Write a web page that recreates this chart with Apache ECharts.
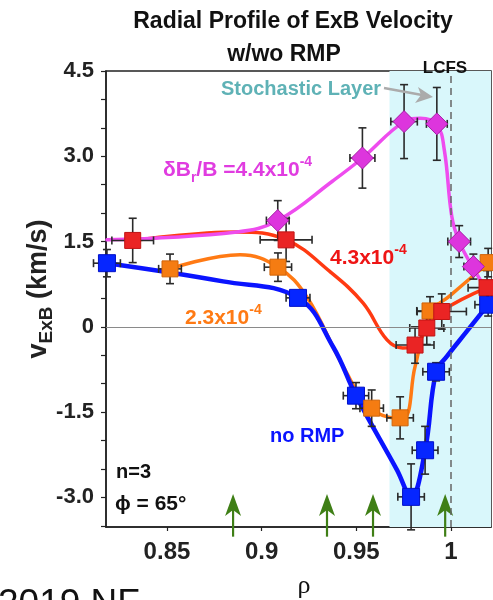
<!DOCTYPE html>
<html>
<head>
<meta charset="utf-8">
<script src="https://cdn.jsdelivr.net/npm/echarts@6/dist/echarts.min.js"></script>
<style>
  html, body { margin: 0; padding: 0; background: #fff; }
  #chart { width: 493px; height: 600px; }
</style>
</head>
<body>
<div id="chart"></div>
<script>
// ---- axis ticks ----
const rhoTicks = [0.85, 0.9, 0.95, 1];
const vLabelTicks = [-3, -1.5, 0, 1.5, 3, 4.5];
const vMinorTicks = [-3.5, -3, -2.5, -2, -1.5, -1, -0.5, 0, 0.5, 1, 1.5, 2, 2.5, 3, 3.5, 4, 4.5];

// ---- no RMP ----
const noRmpRho    = [0.8183, 0.9192, 0.9498, 0.9789, 0.9863, 0.9921, 1.0196];
const noRmpV      = [1.12, 0.51, -1.21, -2.99, -2.17, -0.79, 0.39];
const noRmpRhoErr = [0.0071, 0.0063, 0.0067, 0.007, 0.0068, 0.007, 0.007];
const noRmpVErr   = [0.24, 0.10, 0.23, 0.58, 0.42, 0.16, 0.20];
const noRmpFitRho = [0.8183, 0.8796, 0.9192, 0.9377, 0.9498, 0.9715, 0.9789, 0.9863, 0.9921, 0.9978, 1.0083, 1.0196];
const noRmpFitV   = [1.12, 0.80, 0.51, -0.35, -1.21, -2.52, -2.99, -2.17, -0.79, -0.52, -0.08, 0.39];

// ---- dBr/B = 2.3e-4 ----
const lowRho    = [0.8516, 0.9086, 0.9581, 0.9731, 0.9889, 1.0196];
const lowV      = [1.02, 1.05, -1.43, -1.60, 0.28, 1.13];
const lowRhoErr = [0.006, 0.0072, 0.0062, 0.007, 0.007, 0.007];
const lowVErr   = [0.26, 0.25, 0.32, 0.37, 0.25, 0.25];
const lowFitRho = [0.8516, 0.8886, 0.9086, 0.9238, 0.9431, 0.9578, 0.9740, 0.9810, 0.9889, 0.9995, 1.0196];
const lowFitV   = [1.02, 1.27, 1.05, 0.53, -0.70, -1.44, -1.62, -0.70, 0.24, 0.55, 1.12];

// ---- dBr/B = 4.3e-4 ----
const midRho    = [0.8319, 0.9129, 0.9810, 0.9872, 0.9951, 1.0190];
const midV      = [1.52, 1.53, -0.32, -0.02, 0.27, 0.69];
const midRhoErr = [0.011, 0.0137, 0.010, 0.009, 0.013, 0.010];
const midVErr   = [0.39, 0.38, 0.32, 0.29, 0.31, 0.30];
const midFitRho = [0.8319, 0.8870, 0.9129, 0.9361, 0.9535, 0.9662, 0.9745, 0.9810, 0.9873, 0.9952, 1.0190];
const midFitV   = [1.52, 1.67, 1.53, 0.97, 0.42, -0.23, -0.37, -0.33, -0.02, 0.28, 0.69];

// ---- dBr/B = 4.4e-4 ----
const highRho    = [0.9085, 0.9532, 0.9752, 0.9925, 1.0043, 1.0118];
const highV      = [1.87, 2.97, 3.61, 3.57, 1.50, 1.06];
const highRhoErr = [0.006, 0.0066, 0.007, 0.0055, 0.006, 0.005];
const highVErr   = [0.35, 0.53, 0.65, 0.64, 0.28, 0.22];
const highFitRho = [0.8183, 0.8870, 0.9085, 0.9377, 0.9532, 0.9752, 0.9837, 0.9925, 0.9965, 1.0004, 1.0043, 1.0118, 1.0189];
const highFitV   = [1.53, 1.67, 1.87, 2.57, 2.97, 3.61, 3.67, 3.56, 3.10, 1.94, 1.50, 1.03, 0.65];

// probe locations (green arrows) and stochastic layer / LCFS
const arrowRho = [0.8849, 0.9345, 0.9588, 0.9969];
const arrowTailV = -3.69;
const arrowTipV = -2.94;
const stochasticStart = 0.9675;
const lcfsRho = 1.0;

const RHO_MIN = 0.8178, RHO_MAX = 1.0211;
const V_MIN = -3.52, V_MAX = 4.5;

const FONT = '"Liberation Sans", Arial, Helvetica, sans-serif';

const zip = (a, b) => a.map((x, i) => [x, b[i]]);

function fitSeries(rho, v, color, width, z) {
  return {
    type: 'line', data: zip(rho, v), showSymbol: false, symbol: 'none',
    smooth: 0.4, z: z, silent: true,
    lineStyle: { color: color, width: width, cap: 'round', join: 'round' }
  };
}

function errorSeries(rho, v, rhoErr, vErr, z) {
  return {
    type: 'custom', z: z, clip: false, silent: true,
    encode: { x: 0, y: 1 },
    data: rho.map((r, i) => [r, v[i], rhoErr[i], vErr[i]]),
    renderItem(params, api) {
      const x = api.value(0), y = api.value(1), dx = api.value(2), dy = api.value(3);
      const top = api.coord([x, y + dy]);
      const bot = api.coord([x, y - dy]);
      const lft = api.coord([x - dx, y]);
      const rgt = api.coord([x + dx, y]);
      const cap = 4;
      const st = { stroke: '#2a2a2a', lineWidth: 1.6 };
      const seg = (x1, y1, x2, y2) => ({ type: 'line', shape: { x1, y1, x2, y2 }, style: st });
      return {
        type: 'group',
        children: [
          seg(top[0], top[1], bot[0], bot[1]),
          seg(top[0] - cap, top[1], top[0] + cap, top[1]),
          seg(bot[0] - cap, bot[1], bot[0] + cap, bot[1]),
          seg(lft[0], lft[1], rgt[0], rgt[1]),
          seg(lft[0], lft[1] - cap, lft[0], lft[1] + cap),
          seg(rgt[0], rgt[1] - cap, rgt[0], rgt[1] + cap)
        ]
      };
    }
  };
}

function markerSeries(rho, v, symbol, size, fill, border, z) {
  return {
    type: 'scatter', data: zip(rho, v), symbol: symbol, symbolSize: size,
    z: z, silent: true, clip: false,
    itemStyle: { color: fill, borderColor: border, borderWidth: 1, opacity: 1 }
  };
}

const chart = echarts.init(document.getElementById('chart'), null, { renderer: 'canvas' });

const option = {
  animation: false,
  backgroundColor: '#fff',
  grid: {
    left: 106, right: 2, top: 71, bottom: 73,
    show: true, borderColor: '#222', borderWidth: 1.5, backgroundColor: 'transparent'
  },
  xAxis: {
    type: 'value', min: RHO_MIN, max: RHO_MAX,
    axisLine: { show: true, onZero: false, lineStyle: { color: '#222', width: 1.5 } },
    axisTick: { show: true, customValues: rhoTicks, length: 4, lineStyle: { color: '#222', width: 1.2 } },
    axisLabel: {
      customValues: rhoTicks, margin: 13,
      fontFamily: FONT, fontSize: 24, fontWeight: 'bold', color: '#222',
      formatter: v => String(v)
    },
    splitLine: { show: false }
  },
  yAxis: {
    type: 'value', min: V_MIN, max: V_MAX,
    axisLine: { show: true, onZero: false, lineStyle: { color: '#222', width: 1.5 } },
    axisTick: { show: true, customValues: vMinorTicks, length: 5, lineStyle: { color: '#222', width: 1.2 } },
    axisLabel: {
      customValues: vLabelTicks, margin: 12,
      fontFamily: FONT, fontSize: 22, fontWeight: 'bold', color: '#222',
      formatter: v => (v === 0 ? '0' : v.toFixed(1))
    },
    splitLine: { show: false }
  },
  series: [
    {
      // stochastic layer band, LCFS marker and zero line
      type: 'line', data: [], z: 1, silent: true,
      markArea: {
        silent: true,
        itemStyle: { color: '#d9f7fb' },
        data: [[{ xAxis: stochasticStart }, { xAxis: RHO_MAX }]]
      },
      markLine: {
        silent: true, symbol: 'none', label: { show: false }, animation: false,
        data: [
          { xAxis: lcfsRho, lineStyle: { color: '#666', type: [7, 5], width: 1.5 } },
          { yAxis: 0, lineStyle: { color: '#8a8a8a', type: 'solid', width: 1.2 } }
        ]
      }
    },
    {
      // probe arrows
      type: 'custom', z: 2, clip: false, silent: true,
      encode: { x: 0, y: 1 },
      data: arrowRho.map(r => [r, arrowTipV]),
      renderItem(params, api) {
        const r = api.value(0);
        const tail = api.coord([r, arrowTailV]);
        const tip = api.coord([r, arrowTipV]);
        const col = '#3f7f16';
        return {
          type: 'group',
          children: [
            { type: 'line', shape: { x1: tail[0], y1: tail[1], x2: tip[0], y2: tip[1] + 14 },
              style: { stroke: col, lineWidth: 2.2 } },
            { type: 'polygon', shape: { points: [
                [tip[0], tip[1]], [tip[0] + 8, tip[1] + 22], [tip[0], tip[1] + 16], [tip[0] - 8, tip[1] + 22]
              ] }, style: { fill: col } }
          ]
        };
      }
    },
    fitSeries(lowFitRho, lowFitV, '#ff7a14', 3.5, 3),
    fitSeries(noRmpFitRho, noRmpFitV, '#0a14ff', 4.5, 3),
    fitSeries(midFitRho, midFitV, '#ff3a12', 3.5, 3),
    fitSeries(highFitRho, highFitV, '#ee4cee', 3.5, 3),
    errorSeries(noRmpRho, noRmpV, noRmpRhoErr, noRmpVErr, 4),
    errorSeries(lowRho, lowV, lowRhoErr, lowVErr, 4),
    errorSeries(midRho, midV, midRhoErr, midVErr, 4),
    errorSeries(highRho, highV, highRhoErr, highVErr, 4),
    markerSeries(noRmpRho, noRmpV, 'rect', 17, '#0626ff', '#0010c8', 5),
    markerSeries(lowRho, lowV, 'rect', 16, '#f57c12', '#d0650a', 6),
    markerSeries(midRho, midV, 'rect', 16, '#ea2424', '#c01414', 7),
    markerSeries(highRho, highV, 'diamond', 22, '#dd35dd', '#a51ea5', 8)
  ],
  graphic: [
    { type: 'text', x: 293, y: 22, z: 20, silent: true,
      style: { text: 'Radial Profile of ExB Velocity', fill: '#111', font: 'bold 23px ' + FONT, textAlign: 'center', textVerticalAlign: 'middle' } },
    { type: 'text', x: 284, y: 55, z: 20, silent: true,
      style: { text: 'w/wo RMP', fill: '#111', font: 'bold 23px ' + FONT, textAlign: 'center', textVerticalAlign: 'middle' } },
    { type: 'text', x: 445, y: 68, z: 20, silent: true,
      style: { text: 'LCFS', fill: '#111', font: 'bold 17px ' + FONT, textAlign: 'center', textVerticalAlign: 'middle' } },
    { type: 'text', x: 301, y: 89, z: 20, silent: true,
      style: { text: 'Stochastic Layer', fill: '#5fb2b6', font: 'bold 20px ' + FONT, textAlign: 'center', textVerticalAlign: 'middle' } },
    { type: 'polyline', z: 20, silent: true,
      shape: { points: [[384, 88], [422, 95]] }, style: { stroke: '#ababab', lineWidth: 2.5 } },
    { type: 'polygon', z: 20, silent: true,
      shape: { points: [[433, 97], [418, 87], [421, 95], [415, 103]] }, style: { fill: '#ababab' } },
    // curve labels
    { type: 'text', x: 163, y: 170, z: 20, silent: true,
      style: {
        text: '{m|δB}{s|r}{m|/B =4.4x10}{p|-4}', fill: '#e03ce0',
        textAlign: 'left', textVerticalAlign: 'middle',
        rich: {
          m: { fontFamily: FONT, fontWeight: 'bold', fontSize: 21, fill: '#e03ce0', lineHeight: 30, verticalAlign: 'middle' },
          s: { fontFamily: FONT, fontWeight: 'bold', fontSize: 14, fill: '#e03ce0', verticalAlign: 'bottom' },
          p: { fontFamily: FONT, fontWeight: 'bold', fontSize: 14, fill: '#e03ce0', verticalAlign: 'top' }
        }
      } },
    { type: 'text', x: 330, y: 258, z: 20, silent: true,
      style: {
        text: '{m|4.3x10}{p|-4}', fill: '#ee1515',
        textAlign: 'left', textVerticalAlign: 'middle',
        rich: {
          m: { fontFamily: FONT, fontWeight: 'bold', fontSize: 21, fill: '#ee1515', lineHeight: 30, verticalAlign: 'middle' },
          p: { fontFamily: FONT, fontWeight: 'bold', fontSize: 14, fill: '#ee1515', verticalAlign: 'top' }
        }
      } },
    { type: 'text', x: 185, y: 318, z: 20, silent: true,
      style: {
        text: '{m|2.3x10}{p|-4}', fill: '#ff7a14',
        textAlign: 'left', textVerticalAlign: 'middle',
        rich: {
          m: { fontFamily: FONT, fontWeight: 'bold', fontSize: 21, fill: '#ff7a14', lineHeight: 30, verticalAlign: 'middle' },
          p: { fontFamily: FONT, fontWeight: 'bold', fontSize: 14, fill: '#ff7a14', verticalAlign: 'top' }
        }
      } },
    { type: 'text', x: 270, y: 436, z: 20, silent: true,
      style: { text: 'no RMP', fill: '#0a14ff', font: 'bold 20px ' + FONT, textAlign: 'left', textVerticalAlign: 'middle' } },
    { type: 'text', x: 116, y: 472, z: 20, silent: true,
      style: { text: 'n=3', fill: '#111', font: 'bold 20px ' + FONT, textAlign: 'left', textVerticalAlign: 'middle' } },
    { type: 'text', x: 115, y: 504, z: 20, silent: true,
      style: { text: 'ϕ = 65°', fill: '#111', font: 'bold 21px ' + FONT, textAlign: 'left', textVerticalAlign: 'middle' } },
    // axis titles
    { type: 'text', x: 39, y: 289, rotation: Math.PI / 2, z: 20, silent: true,
      style: {
        text: '{m|v}{s|ExB}{m| (km/s)}', fill: '#222',
        textAlign: 'center', textVerticalAlign: 'middle',
        rich: {
          m: { fontFamily: FONT, fontWeight: 'bold', fontSize: 27, fill: '#222', lineHeight: 34, verticalAlign: 'middle' },
          s: { fontFamily: FONT, fontWeight: 'bold', fontSize: 19, fill: '#222', verticalAlign: 'bottom' }
        }
      } },
    { type: 'text', x: 304, y: 586, z: 20, silent: true,
      style: { text: 'ρ', fill: '#111', font: '26px "Liberation Serif", "DejaVu Serif", serif', textAlign: 'center', textVerticalAlign: 'middle' } },
    { type: 'text', x: -2, y: 586, z: 20, silent: true,
      style: { text: '2019 NF', fill: '#111', font: '37px ' + FONT, textAlign: 'left', textVerticalAlign: 'top' } }
  ]
};

chart.setOption(option);
</script>
</body>
</html>
